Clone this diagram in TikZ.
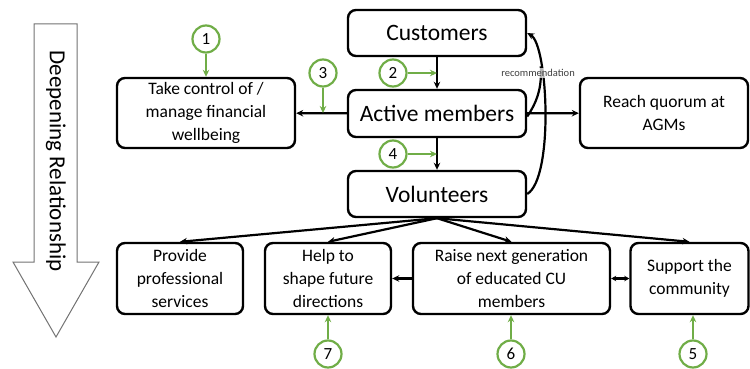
\documentclass[tikz,border=0pt]{standalone}
\usepackage{fontspec}
\setmainfont{Carlito}
\usetikzlibrary{arrows.meta}
\definecolor{grn}{HTML}{70AD47}
\begin{document}
\begin{tikzpicture}[x=1pt,y=-1pt,
  box/.style={draw=black,line width=2.4pt,rounded corners=8pt,align=center,inner sep=0pt,
    font=\fontsize{17.5}{23}\selectfont},
  bigbox/.style={box,font=\fontsize{23.5}{26}\selectfont},
  num/.style={circle,draw=grn,line width=2.2pt,minimum size=27pt,inner sep=0pt,
    font=\fontsize{17}{18}\selectfont},
  conn/.style={line width=2.2pt,-{Stealth[length=7pt,width=6.5pt]}},
  gconn/.style={draw=grn,line width=2.2pt,-{Stealth[length=7pt,width=6.5pt]}},
  lbl/.style={font=\fontsize{10.5}{12}\selectfont,text=black!75,fill=white,fill opacity=0.7,text opacity=1,inner sep=1pt}]
\useasboundingbox (0,0) rectangle (750,369);
% big arrow
\draw[draw=black!55,line width=1pt,fill=white]
  (34,24) -- (77,24) -- (77,262) -- (99,262) -- (56,337) -- (13,262) -- (34,262) -- cycle;
\node[rotate=-90,font=\fontsize{23}{26}\selectfont] (deep) at (56,161) {Deepening Relationship};
% boxes
\node[bigbox,minimum width=178pt,minimum height=46pt] (cust) at (437,33) {Customers};
\node[bigbox,minimum width=178pt,minimum height=47pt] (act) at (437,113.5) {Active members};
\node[bigbox,minimum width=178pt,minimum height=46pt] (vol) at (437,194) {Volunteers};
\node[box,minimum width=178pt,minimum height=70pt] (take) at (206,113) {Take control of /\\manage financial\\wellbeing};
\node[box,minimum width=168pt,minimum height=70pt] (reach) at (664,113) {Reach quorum at\\AGMs};
\node[box,minimum width=126pt,minimum height=71pt] (prov) at (180,278.5) {Provide\\professional\\services};
\node[box,minimum width=126pt,minimum height=71pt] (help) at (328,278.5) {Help to\\shape future\\directions};
\node[box,minimum width=197pt,minimum height=71pt] (raise) at (511.5,278.5) {Raise next generation\\of educated CU\\members};
\node[box,minimum width=118pt,minimum height=71pt] (supp) at (689.5,278.5) {Support the\\community};
% connectors
\draw[conn] (cust) -- (act);
\draw[conn] (act) -- (vol);
\draw[conn] (act) -- (take);
\draw[conn] (act) -- (reach);
\draw[conn] (vol.south) -- (prov.north);
\draw[conn] (vol.south) -- (help.north);
\draw[conn] (vol.south) -- (raise.north);
\draw[conn] (vol.south) -- (supp.north);
\draw[conn] (raise) -- (help);
\draw[line width=2.2pt,{Stealth[length=5pt,width=5.5pt]}-{Stealth[length=5pt,width=5.5pt]}] (raise) -- (supp);
\draw[conn] (vol.east) .. controls (554,178) and (548,45) .. coordinate[pos=0.72] (m) (cust.east);
\draw[line width=2.2pt] ([yshift=-3pt]act.east) .. controls (537,102) and (542,88) .. (m);
\node[lbl] (rec) at (538,73) {recommendation};
% numbered markers
\node[num] (n1) at (206,39) {1};
\node[num] (n2) at (393,73) {2};
\node[num] (n3) at (323,73) {3};
\node[num] (n4) at (393,154) {4};
\node[num] (n5) at (693,354) {5};
\node[num] (n6) at (511,354) {6};
\node[num] (n7) at (328,354) {7};
\coordinate (t3) at (323,113);
\coordinate (t2) at (437,73);
\coordinate (t4) at (437,154);
\draw[gconn] (n1) -- (take);
\draw[gconn] (n3) -- (t3);
\draw[gconn] (n2) -- (t2);
\draw[gconn] (n4) -- (t4);
\draw[gconn] (n5) -- (supp.south -| n5);
\draw[gconn] (n6) -- (raise.south -| n6);
\draw[gconn] (n7) -- (help);
\end{tikzpicture}
\end{document}
